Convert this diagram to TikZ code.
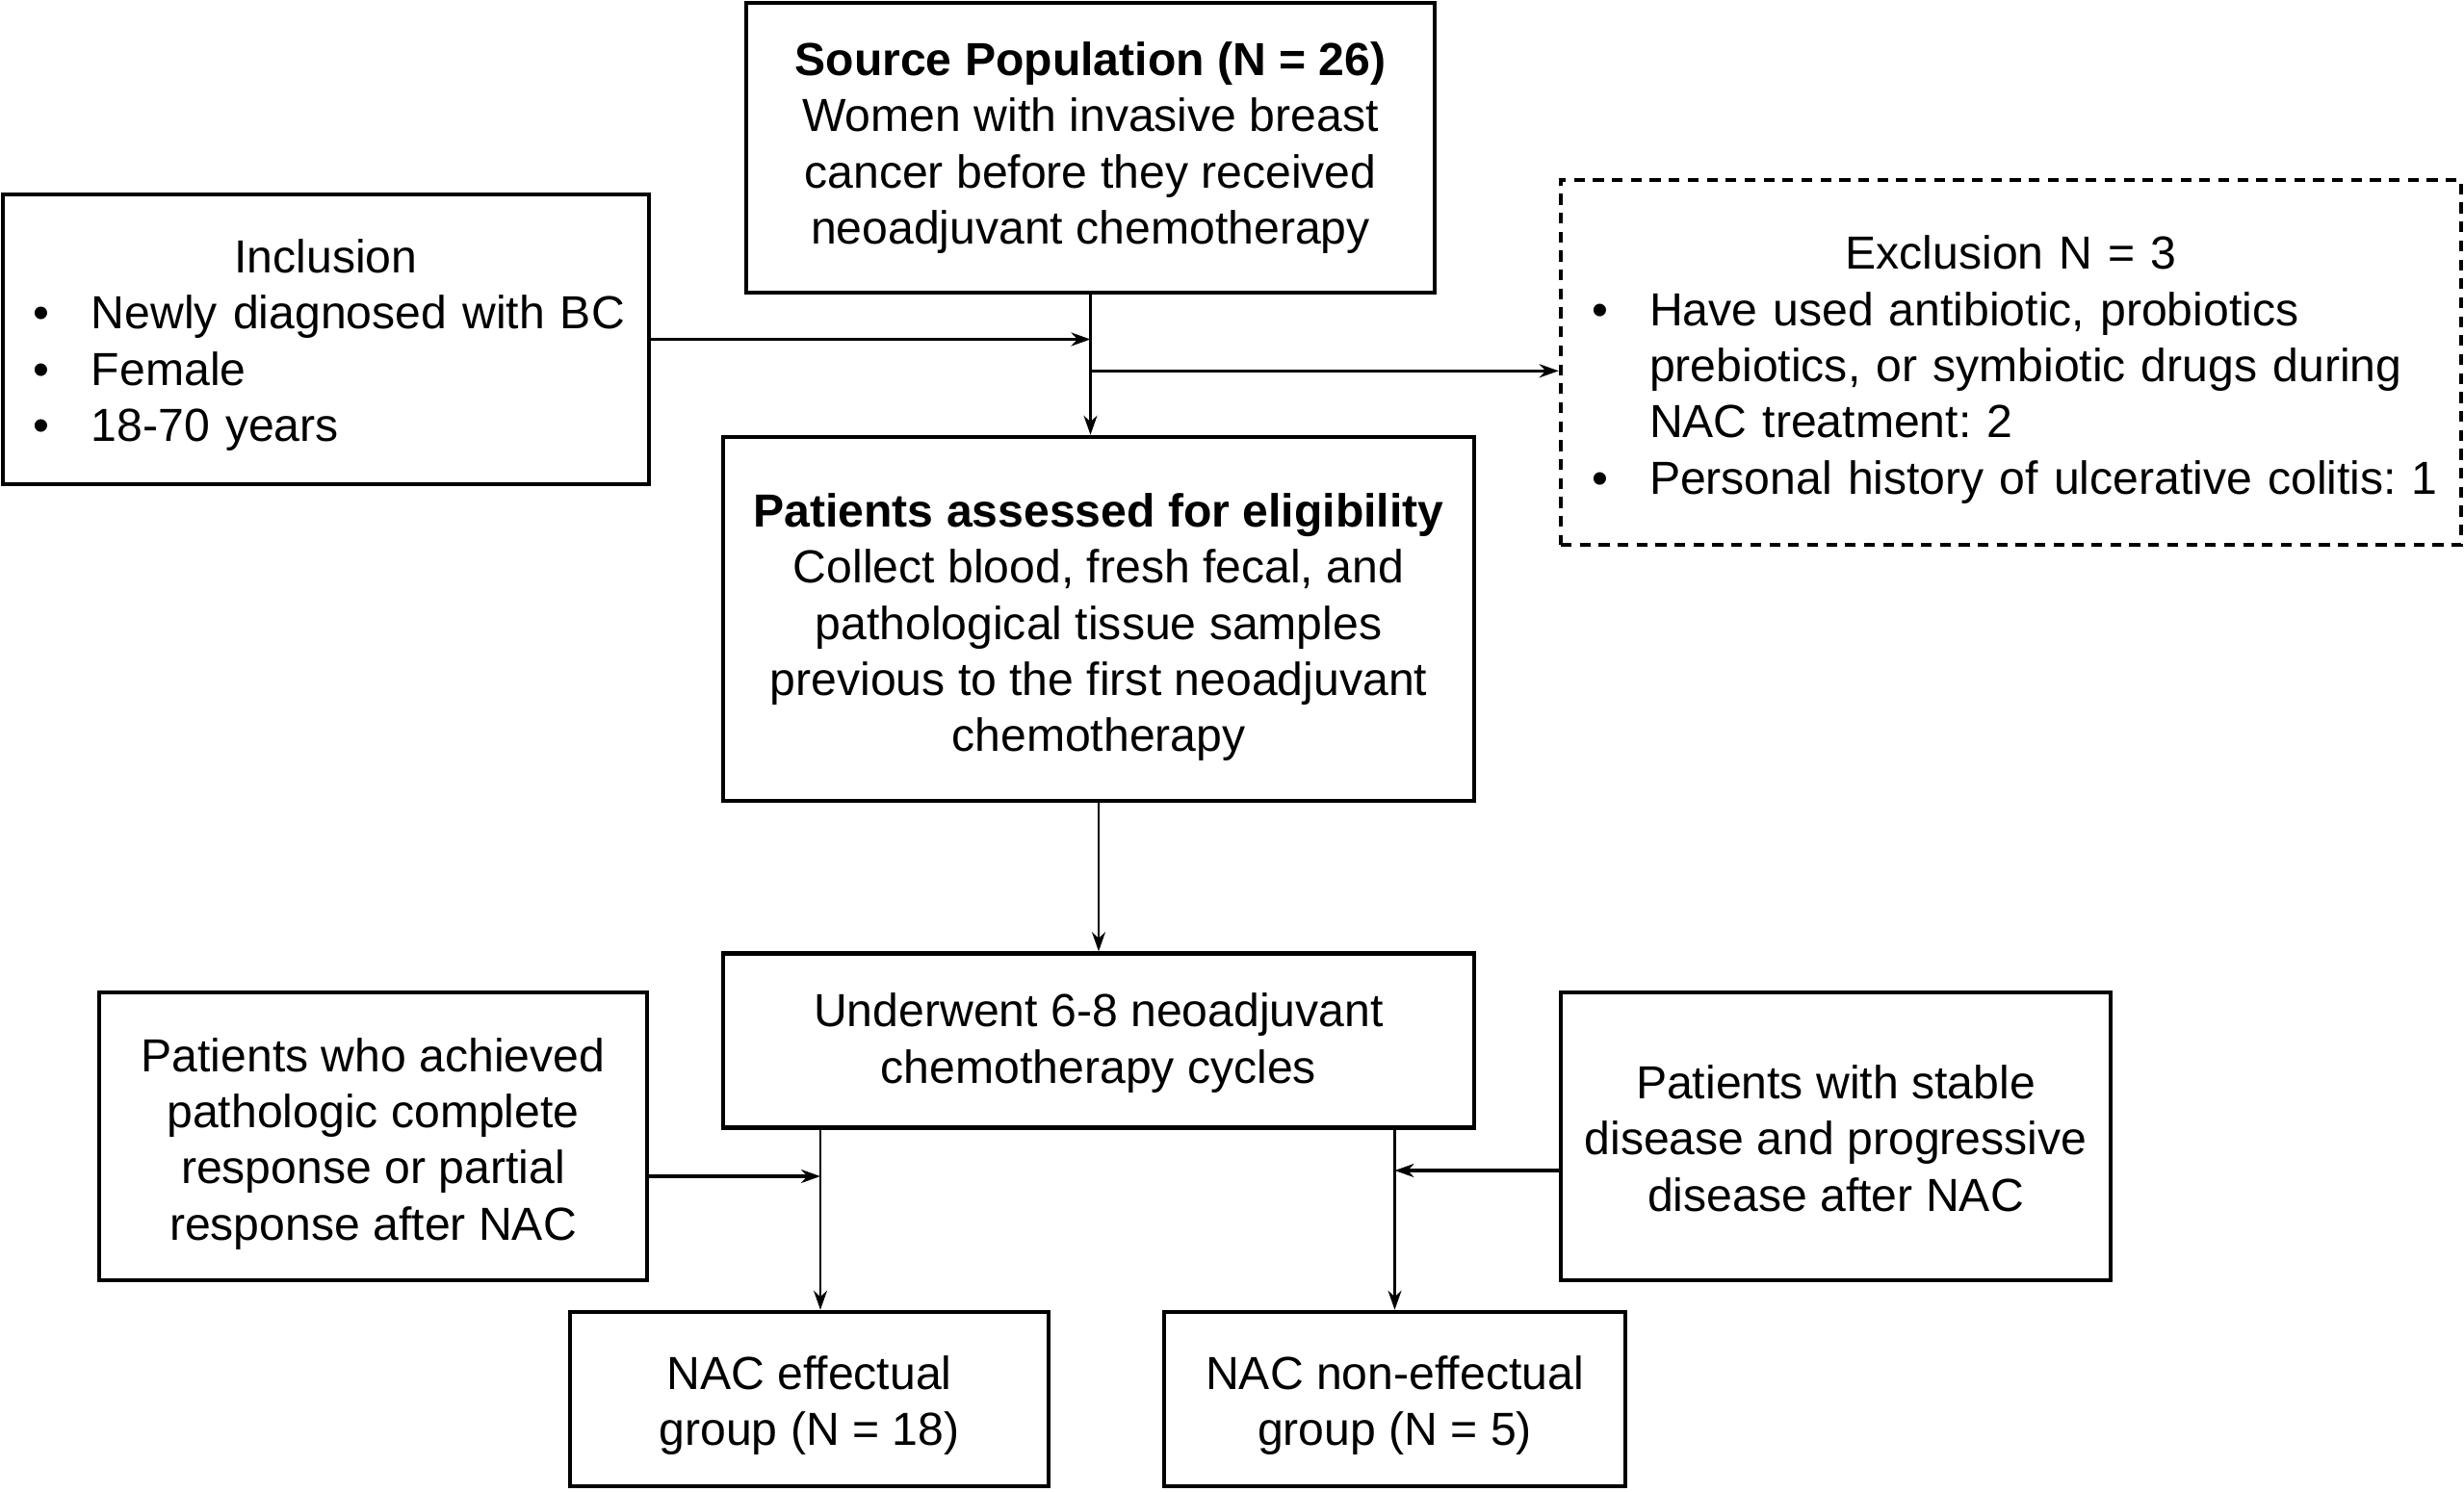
\documentclass[tikz,border=0pt]{standalone}
\usepackage{fontspec}
\setmainfont{Liberation Sans}
\frenchspacing
\usetikzlibrary{arrows.meta, positioning}
\tikzset{
    box/.style={draw, line width=1.3pt, align=center, inner sep=0pt,
        font=\fontsize{13.7}{16.6}\selectfont},
    listbox/.style={box, align=left, inner xsep=0.32cm},
    excluded/.style={listbox, dash pattern=on 3.2pt off 2.4pt},
    flow/.style={->, line width=0.65pt},
    feed/.style={->, line width=0.95pt}
}
\newcommand{\sink}[1]{\rule{0pt}{#1}}
\newcommand{\itm}[1]{\mbox{\makebox[0.6cm][l]{\textbullet}#1}}
\newcommand{\cnt}[1]{\mbox{\hspace{0.6cm}#1}}
\newcommand{\hd}[1]{\null\hfill#1\hfill\null}

\begin{document}
\begin{tikzpicture}[>={Stealth[length=2mm, width=1.4mm]}]
    \useasboundingbox (0,0) rectangle (25.59,-15.49);

    \node[box, minimum width=7.15cm, minimum height=3.01cm] (src) at (11.325,-1.535)
        {\textbf{Source Population (N = 26)}\\Women with invasive breast\\cancer before they received\\neoadjuvant chemotherapy};
    \node[listbox, text width=6.07cm, minimum width=6.71cm, minimum height=3.01cm] (incl) at (3.385,-3.525)
        {\sink{0.47cm}\hd{Inclusion}\\\itm{Newly diagnosed with BC}\\\itm{Female}\\\itm{18-70 years}};
    \node[excluded, text width=8.71cm, minimum width=9.35cm, minimum height=3.79cm] (excl) at (20.885,-3.765)
        {\sink{0.5cm}\hd{Exclusion N = 3}\\\itm{Have used antibiotic, probiotics}\\\cnt{prebiotics, or symbiotic drugs during}\\\cnt{NAC treatment: 2}\\\itm{Personal history of ulcerative colitis: 1}};
    \node[box, minimum width=7.8cm, minimum height=3.78cm] (elig) at (11.41,-6.43)
        {\sink{0.52cm}\textbf{Patients assessed for eligibility}\\Collect blood, fresh fecal, and\\pathological tissue samples\\previous to the first neoadjuvant\\chemotherapy};
    \node[box, minimum width=7.8cm, minimum height=1.81cm, below=1.54cm of elig] (cyc)
        {\sink{0.4cm}Underwent 6-8 neoadjuvant\\chemotherapy cycles};
    \node[box, minimum width=5.69cm, minimum height=2.99cm] (pcr) at (3.875,-11.805)
        {\sink{0.5cm}Patients who achieved\\pathologic complete\\response or partial\\response after NAC};
    \node[box, minimum width=5.71cm, minimum height=2.99cm] (sd) at (19.065,-11.805)
        {\sink{0.39cm}Patients with stable\\disease and progressive\\disease after NAC};
    \node[box, minimum width=4.97cm, minimum height=1.81cm] (eff) at (8.405,-14.535)
        {\sink{0.48cm}NAC effectual\\group (N = 18)};
    \node[box, minimum width=4.79cm, minimum height=1.81cm] (non) at (14.485,-14.535)
        {\sink{0.48cm}NAC non-effectual\\group (N = 5)};

    % junctions on the vertical lines
    \coordinate (jx) at ([yshift=-0.79cm]src.south);
    \coordinate (ex) at ([xshift=0.115cm]eff.north);

    \draw[flow] (src.south) -- (src.south |- elig.north);
    \draw[feed] (incl.east) -- (incl.east -| src.south);
    \draw[feed] (jx) -- (jx -| excl.west);
    \draw[flow] (elig) -- (cyc);
    \draw[flow] (ex |- cyc.south) -- (ex);
    \draw[flow] (non.north |- cyc.south) -- (non.north);
    \draw[feed] ([yshift=-0.415cm]pcr.east) -- ([yshift=-0.415cm]pcr.east -| ex);
    \draw[feed] ([yshift=-0.355cm]sd.west) -- ([yshift=-0.355cm]sd.west -| non.north);
\end{tikzpicture}
\end{document}
